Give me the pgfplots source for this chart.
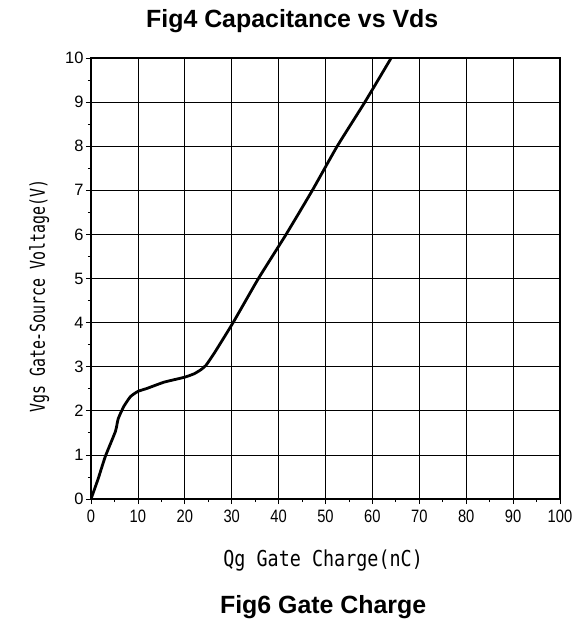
\documentclass[border=0pt]{standalone}
\usepackage{fontspec}
\setmainfont{Liberation Sans}
\newfontfamily\xtickfont[FakeStretch=0.82]{Liberation Sans}
\newfontfamily\xlabfont[FakeStretch=0.84]{DejaVu Sans Mono}
\newfontfamily\ylabfont[FakeStretch=0.73]{DejaVu Sans Mono}
\usepackage{pgfplots}
\pgfplotsset{compat=1.18}

\begin{document}
\begin{tikzpicture}
\begin{axis}[
    scale only axis,
    width=469bp, height=441bp,
    xmin=0, xmax=100, ymin=0, ymax=10,
    xtick={0,10,...,100}, ytick={0,1,...,10},
    minor x tick num=1, minor y tick num=1,
    tick align=outside,
    major tick length=5bp, minor tick length=3bp,
    xtick pos=bottom, ytick pos=left,
    grid=major,
    major grid style={black, line width=0.75pt},
    axis line style={black, line width=1.1pt},
    tick style={black, line width=0.75pt},
    /pgf/number format/assume math mode=true,
    yticklabel style={font=\fontsize{16.5}{16.5}\selectfont, xshift=1bp},
    xticklabel style={font=\xtickfont\fontsize{18}{18}\selectfont, yshift=-2bp},
    xlabel={\xlabfont\fontsize{22}{22}\selectfont Qg Gate Charge(nC)},
    xlabel style={at={([yshift=-67bp]axis description cs:0.495,0)}, anchor=base},
    ylabel={\ylabfont\fontsize{20.5}{20.5}\selectfont Vgs Gate-Source Voltage(V)},
    ylabel style={at={([xshift=-46bp]axis description cs:0,0.46)}, anchor=base, rotate=0},
    title={\bfseries\fontsize{25}{25}\selectfont Fig4 Capacitance vs Vds},
    title style={at={([yshift=25bp]axis description cs:0.429,1)}, anchor=base},
]
\addplot[black, line width=2.8pt, smooth, tension=0.3, line join=round] coordinates {
    (0,0) (1.5,0.45) (3.07,0.97) (5.2,1.53) (5.8,1.82) (7,2.1) (8.4,2.32)
    (10,2.44) (12,2.51) (15.6,2.65) (19.9,2.76) (22,2.84) (23.4,2.93)
    (24.5,3.03) (26.3,3.31) (30.3,4) (35.7,5) (41.6,6) (47.2,7) (52.5,8)
    (58.4,9) (64,10)
};
\coordinate (SW) at (rel axis cs:0,0);
\coordinate (NE) at (rel axis cs:1,1);
\coordinate (CAP) at (axis description cs:0.495,0);
\end{axis}
\node[font=\bfseries\fontsize{25}{25}\selectfont, anchor=base]
    at ([yshift=-114bp]CAP) {Fig6 Gate Charge};
\path[use as bounding box] ([xshift=-91bp,yshift=-123bp]SW) rectangle ([xshift=23bp,yshift=58bp]NE);
\end{tikzpicture}
\end{document}
